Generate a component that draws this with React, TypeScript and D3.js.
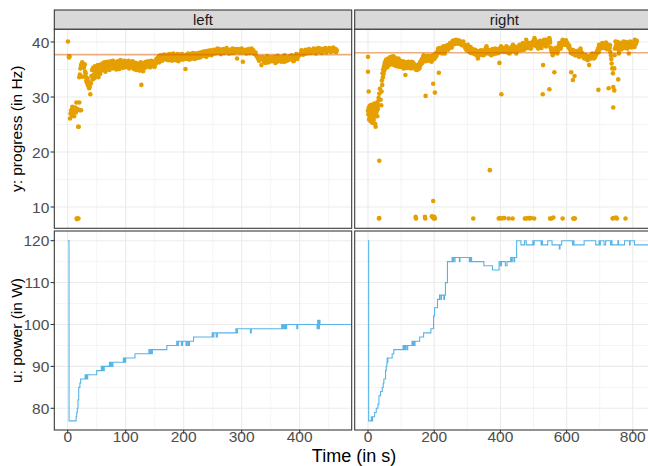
import React from "react";
import * as d3 from "d3";

// ---------- DATA ----------
const facetNames = ["left", "right"];
const referenceValues = [37.7, 38.05];

const xTicksLeft = [0, 100, 200, 300, 400];
const xMinorLeft = [50, 150, 250, 350, 450];
const xTicksRight = [0, 200, 400, 600, 800];
const xMinorRight = [100, 300, 500, 700];
const yTicksProgress = [10, 20, 30, 40];
const yMinorProgress = [15, 25, 35];
const yTicksPower = [80, 90, 100, 110, 120];
const yMinorPower = [85, 95, 105, 115];

const progressLeft: [number, number][] = [
  [0.5, 40.1], [2, 37.3], [2.5, 37.2], [3, 37.4],
  [4, 26.1], [5, 27], [6, 27.6], [7, 26.6], [8, 28.2], [9, 27.3], [10, 27.8], [11, 26.5], [12, 27.4], [13, 28.1], [14, 27.2], [15, 29], [16, 27.6], [17, 27.8], [18, 24.6], [19, 24.6], [20, 29.0], [21, 27.6], [23, 27.6],
  [15.5, 7.9], [17, 7.9], [18.5, 7.9], [16, 7.8],
  [20, 33.6], [21, 34.1], [22, 35.2], [23, 35.8], [24, 35.9], [25, 36.3], [26, 35.5], [27, 36.0], [28, 35.3], [29, 35.9], [30, 34.6], [31, 33.7], [32, 33.0], [33, 32.6], [34, 33.4], [35, 32.1], [36, 32.8], [37, 31.6], [38, 31.9], [39, 30.5], [25.3, 33.7], [31, 34.3], [29.3, 35.9],
  [40, 32.5], [41, 33.8], [42, 34.9], [43, 33.2], [44, 35.3], [45, 34.1], [46, 33.4], [47, 35.6], [48, 34.6], [49, 33.9], [50, 35.1], [51, 34.4], [52, 35.8], [53, 33.6], [54, 34.9], [55, 35.4], [56, 34.2], [57, 35.9], [58, 34.8], [59, 35.3], [60, 36.1],
  [61, 34.9], [62, 35.6], [63, 36.3], [64, 35.2], [65, 34.6], [66, 36.0], [67, 35.5], [68, 36.4], [69, 35.1], [70, 35.8], [71, 36.2], [72, 34.9], [73, 35.7], [74, 36.5], [75, 35.3], [76, 36.0], [77, 35.6], [78, 36.6], [79, 35.2], [80, 35.9], [81, 36.3], [82, 35.4], [83, 36.1], [84, 35.0], [85, 35.8], [86, 36.5], [87, 35.5], [88, 36.2], [89, 35.1], [90, 36.0], [91, 36.7], [92, 35.6], [93, 35.9], [94, 36.4], [95, 35.3], [96, 36.1], [97, 35.7], [98, 36.6], [99, 35.4], [100, 36.0],
  [101, 36.4], [102, 35.5], [103, 36.1], [104, 35.8], [105, 36.6], [106, 35.2], [107, 35.9], [108, 36.3], [109, 35.6], [110, 36.0], [111, 35.4], [112, 36.5], [113, 35.7], [114, 35.1], [115, 35.9], [116, 35.3], [117, 36.2], [118, 34.9], [119, 35.6], [120, 35.8], [121, 35.2], [122, 36.1], [123, 35.5], [124, 34.8], [125, 35.7], [126, 36.3], [127, 32.2], [128, 35.4], [129, 36.0], [130, 34.7], [131, 35.6], [132, 36.2], [133, 35.3], [134, 35.9], [135, 36.4], [136, 35.5], [137, 36.1], [138, 35.7], [139, 36.5], [140, 35.8], [141, 36.3], [142, 35.4], [143, 36.0], [144, 36.6], [145, 35.9], [146, 36.2], [147, 35.6], [148, 36.4], [149, 36.0], [150, 35.5],
  [151, 36.6], [152, 36.1], [153, 36.9], [154, 36.4], [155, 37.1], [156, 36.7], [157, 37.4], [158, 36.3], [159, 37.0], [160, 37.6], [161, 36.8], [162, 37.3], [163, 36.6], [164, 37.5], [165, 37.0], [166, 37.7], [167, 36.9], [168, 37.2], [169, 37.6], [170, 36.8],
  [171, 37.4], [172, 37.0], [173, 37.7], [174, 36.7], [175, 37.3], [176, 37.8], [177, 36.9], [178, 37.5], [179, 37.1], [180, 36.6], [181, 37.4], [182, 37.9], [183, 37.0], [184, 36.8], [185, 37.6], [186, 37.2], [187, 36.7], [188, 37.5], [189, 37.8], [190, 37.0], [191, 36.5], [192, 37.3], [193, 37.7], [194, 36.9], [195, 37.4], [196, 37.0], [197, 37.8], [198, 36.8], [199, 37.3], [200, 37.6], [201, 36.9], [202, 37.5], [203, 35.1], [204, 37.2], [205, 37.7], [206, 36.9], [207, 37.4], [208, 37.9], [209, 37.1], [210, 36.8], [211, 37.6], [212, 37.3], [213, 37.8], [214, 37.0], [215, 37.5], [216, 38.0], [217, 37.2], [218, 37.7], [219, 36.9], [220, 37.5], [221, 37.9], [222, 37.3], [223, 37.7], [224, 37.1], [225, 38.0], [226, 37.5], [227, 37.8], [228, 37.2], [229, 38.1], [230, 37.6], [231, 37.9], [232, 37.4], [233, 38.2], [234, 37.7], [235, 38.0], [236, 37.5], [237, 38.3], [238, 37.8], [239, 37.3], [240, 38.1], [241, 37.6], [242, 38.4], [243, 37.9], [244, 38.2], [245, 37.7], [246, 38.5], [247, 38.0], [248, 37.6], [249, 38.3], [250, 38.1],
  [252, 38.6], [254, 37.9], [256, 38.4], [258, 38.8], [260, 38.1], [262, 38.5], [264, 37.8], [266, 38.3], [268, 38.7], [270, 38.0], [272, 38.4], [274, 38.9], [276, 38.2], [278, 37.9], [280, 38.6], [282, 38.3], [284, 38.8], [286, 38.0], [288, 38.5], [290, 38.2], [292, 37.0], [294, 38.7], [296, 38.1], [298, 38.4], [300, 38.8], [302, 36.4], [304, 38.2], [306, 38.6], [308, 37.9], [310, 38.3], [312, 38.7], [314, 38.0], [316, 38.4], [318, 38.1], [320, 38.5],
  [253, 38.2], [257, 38.0], [261, 38.7], [265, 38.5], [269, 38.2], [273, 38.6], [277, 38.4], [281, 38.0], [285, 38.4], [289, 38.7], [293, 38.3], [297, 38.6], [301, 38.1], [305, 38.5], [309, 38.6], [313, 38.2], [317, 38.8],
  [322, 37.8], [324, 38.1], [326, 37.4], [328, 37.0], [330, 36.6], [332, 37.2], [334, 35.8],
  [336, 36.9], [338, 36.4], [340, 37.1], [342, 36.6], [344, 37.4], [346, 36.3], [348, 36.9], [350, 37.2], [352, 36.5], [354, 36.8], [356, 37.3], [358, 36.2], [360, 36.9], [362, 37.5], [364, 36.6], [366, 37.0], [368, 36.4], [370, 37.3], [372, 36.8], [374, 37.6], [376, 36.5], [378, 37.1], [380, 36.7], [382, 37.4], [384, 36.9], [386, 37.6], [388, 37.1], [390, 36.6], [392, 37.3], [394, 37.8], [396, 36.9], [398, 37.4], [400, 37.7],
  [337, 37.2], [341, 36.2], [345, 36.9], [349, 36.5], [353, 37.0], [357, 36.7], [361, 36.4], [365, 37.2], [369, 36.8], [373, 36.4], [377, 37.0], [381, 36.8], [385, 37.3], [389, 36.5], [393, 37.0], [397, 37.5],
  [402, 38.0], [404, 38.4], [406, 37.7], [408, 38.2], [410, 38.6], [412, 37.9], [414, 38.3], [416, 38.7], [418, 38.0], [420, 38.5], [422, 38.1], [424, 38.8], [426, 38.3], [428, 37.9], [430, 38.6], [432, 38.9], [434, 38.2], [436, 38.5], [438, 38.0], [440, 38.7], [442, 38.3], [444, 38.9], [446, 38.1], [448, 38.6], [450, 38.4], [452, 38.8], [454, 38.2], [456, 38.6], [458, 39.0], [460, 38.3], [462, 38.7], [464, 38.5],
  [403, 38.5], [407, 38.3], [411, 38.0], [415, 38.5], [419, 38.3], [423, 38.4], [427, 38.7], [431, 38.2], [435, 38.8], [439, 38.4], [443, 38.6], [447, 38.3], [451, 38.9], [455, 38.4], [459, 38.6], [463, 38.2],
];

const progressRight: [number, number][] = [
  [0, 37.3], [0, 34.6], [2, 31.0],
  [0, 27.5], [1, 26.8], [2, 28.0], [3, 25.9], [4, 27.2], [5, 28.4], [6, 26.3], [7, 27.8], [8, 25.6], [9, 27.0], [10, 28.6], [11, 26.1], [12, 27.4], [13, 25.3], [14, 28.2], [15, 26.7], [16, 27.9], [17, 25.8], [18, 27.1], [19, 28.8], [20, 26.4], [21, 27.6], [22, 25.1], [23, 24.6], [24, 26.9], [25, 28.3], [26, 27.3], [27, 28.9], [28, 26.5], [29, 29.1], [30, 27.8], [31, 28.5], [32, 29.8], [34, 30.6], [36, 31.5], [38, 29.5], [40, 28.5],
  [34, 18.4], [33, 7.9], [34, 8.0], [144, 8.2], [145, 7.9], [172, 8.2], [173, 7.9], [193, 8.3], [196, 8.1], [197, 11.1], [199, 7.9], [200, 8.2], [202, 7.9],
  [174, 30.2], [197, 32.4], [202, 30.8], [214, 34.4], [318, 7.9], [368, 16.7], [397, 36.2], [403, 30.5],
  [395, 7.9], [398, 8.0], [403, 7.9], [410, 8.0], [412, 8.0], [425, 7.9], [437, 7.9], [474, 7.9], [478, 7.9], [484, 8.0], [488, 7.9], [492, 8.0], [502, 7.9],
  [528, 30.5], [529, 35.8], [548, 31.4], [563, 34.5], [550, 7.9], [554, 7.9], [560, 8.1], [588, 7.9], [620, 7.9], [623, 7.9], [625, 7.9],
  [614, 34.5], [619, 33.1], [624, 33.8], [696, 31.3], [727, 31.6], [741, 31.8], [744, 31.2], [741, 28.1], [756, 33.2], [744, 35.2],
  [739, 7.9], [742, 8.0], [749, 8.1], [752, 7.9], [778, 7.9],
  [736, 36.1], [738, 35.2], [740, 34.3],
  [41, 31.0], [42, 33.0], [43, 32.2], [44, 34.3], [45, 33.6], [46, 35.0], [47, 34.2], [48, 35.5], [49, 34.8], [50, 36.0], [51, 35.2], [52, 36.4], [53, 35.7], [55, 36.8], [56, 35.9], [57, 36.3], [58, 35.4], [60, 36.6],
  [61, 37.0], [62, 36.2], [63, 36.7], [64, 35.8], [65, 36.9], [66, 36.4], [67, 37.2], [68, 36.0], [69, 36.6], [70, 37.3], [71, 36.1], [72, 36.8], [73, 37.0], [74, 35.9], [75, 36.5], [76, 37.4], [77, 36.2], [78, 37.3], [79, 36.7], [80, 35.8], [81, 36.5], [82, 37.1], [83, 36.4], [84, 35.7], [85, 36.9], [86, 36.3], [87, 35.6], [88, 36.1], [89, 36.8], [90, 35.9], [91, 36.4], [92, 37.0], [93, 36.7], [94, 35.5], [95, 36.2], [96, 35.8], [97, 36.6], [98, 35.5], [99, 36.0], [100, 36.3],
  [102, 36.1], [104, 35.4], [106, 36.5], [108, 35.2], [110, 35.9], [112, 36.3], [113, 34.0], [114, 35.6], [116, 36.0], [118, 35.8], [120, 35.3], [122, 36.4], [124, 35.7], [126, 36.1], [128, 35.8], [130, 35.2], [132, 36.4], [134, 35.9], [136, 35.5], [138, 36.1], [140, 35.4], [142, 35.8], [143, 35.2], [144, 35.0], [146, 35.6], [148, 34.9], [150, 35.4], [152, 35.5], [154, 36.0], [156, 35.3], [158, 36.4], [160, 35.9],
  [101, 35.6], [105, 35.9], [109, 36.2], [115, 35.3], [119, 36.3], [123, 35.9], [127, 35.4], [131, 35.9], [135, 36.3], [139, 35.7], [145, 35.7], [149, 35.5], [153, 35.1], [157, 35.9],
  [162, 36.7], [164, 36.2], [166, 37.2], [168, 37.6], [170, 36.9], [172, 37.0], [174, 36.5], [176, 37.3], [178, 36.7], [180, 37.1], [182, 37.3], [184, 36.6], [186, 37.5], [188, 37.0], [190, 36.8], [192, 36.4], [194, 37.2], [196, 37.6], [198, 37.3], [200, 36.9], [202, 37.6], [204, 37.9], [206, 37.4], [208, 37.9], [210, 38.3],
  [163, 36.9], [167, 36.5], [171, 37.4], [175, 36.9], [179, 37.5], [183, 36.9], [187, 37.3], [191, 37.1], [195, 36.8], [199, 37.5], [203, 37.2], [207, 37.7],
  [212, 38.8], [214, 38.0], [216, 38.5], [218, 38.2], [220, 38.9], [222, 38.5], [224, 37.9], [226, 39.0], [228, 39.2], [230, 38.4], [232, 37.9], [234, 38.7], [236, 39.1], [238, 38.8], [240, 39.4], [242, 38.6], [244, 39.2], [246, 39.6], [248, 39.8], [250, 39.1], [252, 39.5], [254, 39.9], [256, 40.2], [258, 40.1], [260, 39.6],
  [213, 38.4], [217, 38.9], [221, 38.1], [225, 38.6], [229, 38.8], [233, 38.4], [237, 39.3], [241, 39.0], [245, 38.9], [249, 39.5], [253, 39.0], [257, 39.7],
  [262, 40.3], [264, 39.8], [266, 40.4], [268, 40.0], [270, 39.7], [272, 40.3], [274, 39.8], [276, 40.2], [278, 40.1], [280, 39.6], [282, 40.0], [284, 39.4], [286, 39.9], [288, 40.1], [290, 39.5], [292, 39.2], [294, 38.9], [296, 39.4], [298, 38.5], [300, 39.0],
  [302, 39.5], [304, 38.7], [306, 38.2], [308, 38.8], [310, 39.1], [312, 38.4], [314, 38.0], [316, 38.7], [318, 37.9], [320, 38.5], [322, 38.2], [324, 38.6], [326, 37.9], [328, 37.6], [330, 38.3], [332, 37.0], [334, 37.5], [336, 37.9], [338, 38.4], [340, 37.7], [342, 38.5], [344, 38.2], [346, 37.8], [348, 37.6], [350, 38.3], [352, 38.0], [354, 38.6], [356, 38.9], [358, 39.2], [360, 38.4], [362, 37.9], [364, 38.6], [366, 38.2], [368, 38.5], [370, 38.0], [372, 37.6], [374, 38.3], [376, 38.7], [378, 38.2], [380, 37.8], [382, 38.5], [384, 38.8], [386, 38.1], [388, 37.9], [390, 38.6], [392, 38.3], [394, 38.0], [396, 38.4], [398, 38.5], [400, 38.9],
  [303, 38.9], [307, 38.4], [311, 38.0], [315, 38.3], [319, 38.1], [323, 37.8], [327, 38.2], [331, 37.7], [335, 38.1], [339, 37.9], [343, 38.0], [347, 38.4], [351, 37.7], [355, 38.3], [359, 38.7], [363, 38.3], [367, 37.9], [371, 38.3], [375, 38.0], [379, 38.5], [383, 38.2], [387, 38.4], [391, 38.2], [395, 38.7], [399, 38.2],
  [402, 39.2], [404, 38.5], [406, 38.9], [408, 38.8], [410, 38.2], [412, 38.6], [414, 38.2], [416, 38.9], [418, 39.2], [420, 38.6], [422, 38.5], [424, 38.0], [426, 38.6], [428, 37.9], [430, 38.4], [432, 38.8], [434, 39.1], [436, 38.3], [438, 39.5], [440, 38.9], [442, 38.5], [444, 39.0], [446, 38.2], [448, 37.9], [450, 38.6], [452, 38.8], [454, 39.2], [456, 38.5], [458, 39.5], [460, 38.9], [462, 38.5], [464, 39.1], [466, 39.6], [468, 39.8], [470, 39.0], [472, 38.6], [474, 38.8], [476, 39.4], [478, 40.4], [480, 39.7], [482, 39.2], [484, 38.9], [486, 39.5], [488, 39.8], [490, 39.3], [492, 38.8], [494, 39.4], [496, 39.9], [498, 40.1], [500, 39.6],
  [405, 39.0], [409, 38.4], [413, 38.8], [417, 38.5], [421, 39.0], [425, 38.3], [429, 38.7], [433, 38.4], [437, 38.9], [441, 39.2], [445, 38.7], [449, 38.4], [453, 39.0], [457, 38.7], [461, 39.2], [465, 38.6], [469, 39.3], [473, 39.1], [477, 39.0], [481, 39.9], [485, 39.2], [489, 39.0], [493, 39.6], [497, 39.4],
  [502, 40.2], [503, 40.7], [504, 39.8], [506, 39.3], [508, 39.5], [510, 40.0], [512, 39.2], [514, 38.8], [516, 39.6], [518, 39.8], [520, 40.2], [522, 39.4], [524, 38.9], [526, 39.7], [528, 39.5], [530, 40.1], [532, 40.4], [534, 39.6], [536, 39.9], [538, 39.2], [540, 39.7], [542, 40.3], [544, 40.1], [546, 40.5], [548, 40.7], [550, 39.9], [552, 39.0], [554, 38.5], [556, 38.1], [558, 37.6],
  [505, 40.3], [509, 39.9], [513, 39.6], [517, 40.1], [521, 39.8], [525, 39.3], [529, 39.9], [533, 39.8], [537, 40.4], [541, 39.4], [545, 39.8], [549, 40.3], [553, 38.8],
  [560, 38.0], [562, 38.6], [564, 38.2], [566, 38.9], [568, 38.8], [570, 38.4], [572, 37.9], [574, 38.5], [576, 39.3], [578, 39.8], [580, 39.2], [582, 38.8], [584, 39.6], [586, 40.0], [588, 40.4], [590, 39.7], [592, 39.5], [594, 39.9], [596, 40.1], [598, 40.3], [600, 39.6], [602, 39.8], [604, 39.3], [606, 39.0], [608, 39.2], [610, 38.7],
  [563, 38.3], [567, 38.5], [571, 38.1], [575, 38.7], [579, 39.5], [583, 39.1], [587, 39.7], [591, 40.0], [595, 39.5], [599, 39.9], [603, 39.5], [607, 39.4],
  [612, 38.5], [614, 38.1], [616, 38.6], [618, 38.4], [620, 37.8], [622, 38.2], [624, 37.9], [626, 37.6], [628, 37.6], [630, 38.2], [632, 37.9], [634, 38.4], [636, 37.5], [638, 37.3], [640, 38.0], [642, 38.8], [644, 38.2], [646, 37.7], [648, 37.9], [650, 37.4], [652, 37.1], [654, 37.0], [656, 37.6], [658, 37.6], [660, 37.2], [662, 36.8], [664, 36.7], [666, 37.4], [668, 35.8], [670, 37.1], [672, 37.5], [674, 37.3], [676, 37.8], [678, 37.9], [680, 37.4], [682, 37.0], [684, 37.6], [686, 37.3], [688, 37.6], [690, 38.0], [692, 38.3], [694, 38.5], [696, 38.9], [698, 39.5], [700, 39.0],
  [613, 38.0], [617, 37.9], [621, 38.5], [625, 38.3], [629, 37.9], [633, 37.7], [637, 38.1], [641, 38.4], [645, 38.0], [649, 37.6], [653, 37.5], [657, 37.3], [661, 37.5], [665, 37.0], [669, 37.3], [673, 37.0], [677, 37.4], [681, 37.7], [685, 37.2], [689, 37.8], [693, 38.0], [697, 38.2],
  [702, 38.8], [704, 39.2], [706, 39.5], [708, 39.8], [710, 39.1], [712, 38.9], [714, 39.2], [716, 39.6], [718, 39.5], [720, 39.0], [722, 38.7], [724, 38.8], [726, 39.3], [728, 39.5], [730, 38.9], [732, 38.2], [734, 37.6], [735, 36.9],
  [703, 39.5], [707, 38.9], [711, 39.6], [715, 39.0], [719, 39.9], [723, 39.3], [727, 39.0], [731, 39.4],
  [745, 37.6], [746, 38.8], [748, 40.1], [750, 39.4], [752, 39.5], [754, 38.8], [756, 39.2], [758, 38.5], [760, 39.6], [762, 39.8], [764, 39.1], [766, 38.7], [768, 39.2], [770, 39.7], [772, 40.1], [774, 39.4], [776, 38.9], [778, 39.5], [780, 40.0], [782, 39.3], [784, 38.8], [786, 39.6], [788, 39.8], [790, 39.2], [792, 40.1], [794, 39.7], [796, 39.0], [798, 39.2], [800, 39.9], [802, 39.5], [804, 39.8], [806, 40.4], [808, 39.6], [810, 39.9], [812, 40.2],
  [749, 39.0], [753, 40.0], [757, 39.9], [761, 39.0], [765, 39.6], [769, 38.9], [773, 39.6], [777, 39.9], [781, 39.6], [785, 39.4], [789, 39.3], [793, 39.5], [797, 39.6], [801, 39.4], [805, 39.1], [809, 39.7], [758, 37.9], [788, 37.9],
];

const powerLeft: [number, number][] = [
  [0, 120], [2.3, 77], [14.4, 78], [15.5, 79], [16.5, 80], [17.8, 82], [19, 85], [21, 86], [22.4, 87], [30, 88], [31, 87], [32, 88], [33.5, 87], [34.5, 88],
  [50, 89], [58, 90], [59, 89], [60.5, 90], [62, 89], [63, 90], [72, 91], [73, 90], [75, 91], [76, 90], [78, 91], [96, 92], [97, 91], [98.5, 92], [99.5, 91], [100, 92],
  [116, 93], [140, 94], [141, 93], [143, 94], [144.5, 93], [146, 94], [171, 95], [188, 96], [189, 95], [191, 96], [196, 95], [198, 96], [204, 95], [206, 96], [208, 95], [210, 96],
  [217, 97], [249, 98], [250, 97], [252, 98], [256, 97], [258, 98], [290, 99], [291, 98], [292.5, 99], [315, 98], [316.5, 99],
  [369, 100], [370, 99], [371.5, 100], [373, 99], [375, 100], [376, 99], [377.5, 100], [395, 99], [396.5, 100], [430, 99], [431, 101], [433, 99], [434, 101], [435, 100], [490, 100],
];

const powerRight: [number, number][] = [
  [0, 120], [2, 77], [10, 78], [12, 77], [14, 78], [20, 79], [25, 80], [30, 81], [33, 83], [38, 84], [43, 85], [46, 86], [48, 87], [53, 89], [55, 90], [57, 91], [58, 92], [59, 91], [60, 92],
  [73, 93], [78, 94], [106, 95], [108, 94], [110, 95], [112, 94], [114, 95], [118, 94], [120, 95], [133, 96], [136, 95], [138, 96], [141, 95], [142, 96], [156, 97], [168, 98], [190, 99],
  [198, 102], [201, 104], [210, 106], [216, 107], [220, 106], [222, 107], [229, 106], [231, 107], [234, 110], [240, 115], [254, 116], [256, 115], [258, 116], [262, 115], [263, 116], [276, 115], [278, 116],
  [306, 115], [308, 116], [310, 115], [312, 116], [313, 115], [350, 114], [376, 113], [396, 115], [400, 114], [403, 115], [415, 114], [420, 115], [431, 116], [434, 115], [436, 116], [441, 115], [443, 116],
  [449, 120], [462, 119], [473, 120], [478, 119], [498, 120], [500, 119], [502, 120], [523, 119], [525, 120], [527, 119], [543, 120], [556, 119], [578, 118], [580, 119], [585, 120], [618, 119], [620, 120], [622, 119],
  [653, 120], [688, 119], [698, 120], [700, 119], [702, 120], [713, 119], [718, 120], [733, 119], [735, 120], [737, 119], [755, 120], [757, 119], [775, 120], [790, 119], [792, 120], [805, 119], [863, 119],
];

// ---------- LAYOUT ----------
const W = 648;
const H = 466;
const FONT = "'Liberation Sans', Arial, Helvetica, sans-serif";
const colX = [
  { x0: 54.3, x1: 351.7, domain: [-23.1, 489.66] },
  { x0: 354.7, x1: 654, domain: [-40.18, 864.05] },
];
const stripTop = 10;
const topPanel = { y0: 29.3, y1: 228.3, domain: [6.127, 42.31] };
const botPanel = { y0: 231, y1: 430, domain: [74.82, 122.31] };

const POINT = "#E69F00";
const LINE = "#56B4E9";
const GRID = "#EBEBEB";
const BORDER = "#333333";
const TICK_FS = 15.5;

export default function App() {
  const xScales = colX.map((c) => d3.scaleLinear().domain(c.domain).range([c.x0, c.x1]));
  const yTop = d3.scaleLinear().domain(topPanel.domain).range([topPanel.y1, topPanel.y0]);
  const yBot = d3.scaleLinear().domain(botPanel.domain).range([botPanel.y1, botPanel.y0]);
  const progressData = [progressLeft, progressRight];
  const powerData = [powerLeft, powerRight];
  const majorX = [xTicksLeft, xTicksRight];
  const minorX = [xMinorLeft, xMinorRight];

  const panel = (ci: number, row: number) => {
    const c = colX[ci];
    const xs = xScales[ci];
    const p = row === 0 ? topPanel : botPanel;
    const ys = row === 0 ? yTop : yBot;
    const yMaj = row === 0 ? yTicksProgress : yTicksPower;
    const yMin = row === 0 ? yMinorProgress : yMinorPower;
    const clipId = `clip-${ci}-${row}`;
    const line = d3
      .line<[number, number]>()
      .x((d) => xs(d[0]))
      .y((d) => ys(d[1]))
      .curve(d3.curveStepAfter);
    return (
      <g key={clipId}>
        <defs>
          <clipPath id={clipId}>
            <rect x={c.x0} y={p.y0} width={c.x1 - c.x0} height={p.y1 - p.y0} />
          </clipPath>
        </defs>
        <rect x={c.x0} y={p.y0} width={c.x1 - c.x0} height={p.y1 - p.y0} fill="#fff" />
        <g clipPath={`url(#${clipId})`}>
          {yMin.map((v) => (
            <line key={"ym" + v} x1={c.x0} x2={c.x1} y1={ys(v)} y2={ys(v)} stroke={GRID} strokeWidth={0.55} />
          ))}
          {minorX[ci].map((v) => (
            <line key={"xm" + v} x1={xs(v)} x2={xs(v)} y1={p.y0} y2={p.y1} stroke={GRID} strokeWidth={0.55} />
          ))}
          {yMaj.map((v) => (
            <line key={"yM" + v} x1={c.x0} x2={c.x1} y1={ys(v)} y2={ys(v)} stroke={GRID} strokeWidth={1.07} />
          ))}
          {majorX[ci].map((v) => (
            <line key={"xM" + v} x1={xs(v)} x2={xs(v)} y1={p.y0} y2={p.y1} stroke={GRID} strokeWidth={1.07} />
          ))}
          {row === 0 ? (
            <g>
              {progressData[ci].map((d, i) => (
                <circle key={i} cx={xs(d[0])} cy={ys(d[1])} r={2.3} fill={POINT} />
              ))}
              <line
                x1={c.x0}
                x2={c.x1}
                y1={ys(referenceValues[ci])}
                y2={ys(referenceValues[ci])}
                stroke="#D55E00"
                strokeOpacity={0.5}
                strokeWidth={1.6}
              />
            </g>
          ) : (
            <path d={line(powerData[ci]) || ""} fill="none" stroke={LINE} strokeWidth={1.1} />
          )}
        </g>
        <rect x={c.x0} y={p.y0} width={c.x1 - c.x0} height={p.y1 - p.y0} fill="none" stroke={BORDER} strokeWidth={1.07} />
        {ci === 0 &&
          yMaj.map((v) => (
            <g key={"yt" + v}>
              <line x1={c.x0 - 3.7} x2={c.x0} y1={ys(v)} y2={ys(v)} stroke={BORDER} strokeWidth={1.07} />
              <text x={c.x0 - 5} y={ys(v)} dy="0.36em" textAnchor="end" fontSize={TICK_FS} fill="#4D4D4D" fontFamily={FONT}>
                {v}
              </text>
            </g>
          ))}
        {row === 1 &&
          majorX[ci].map((v) => (
            <g key={"xt" + v}>
              <line x1={xs(v)} x2={xs(v)} y1={p.y1} y2={p.y1 + 3.7} stroke={BORDER} strokeWidth={1.07} />
              <text x={xs(v)} y={p.y1 + 12.3} textAnchor="middle" fontSize={TICK_FS} fill="#4D4D4D" fontFamily={FONT}>
                {v}
              </text>
            </g>
          ))}
      </g>
    );
  };

  return (
    <svg
      width={W}
      height={H}
      style={{ position: "absolute", left: 0, top: 0, background: "#fff" }}
      xmlns="http://www.w3.org/2000/svg"
    >
      <rect x={0} y={0} width={W} height={H} fill="#fff" />
      {facetNames.map((name, ci) => (
        <g key={name}>
          <rect
            x={colX[ci].x0}
            y={stripTop}
            width={colX[ci].x1 - colX[ci].x0}
            height={topPanel.y0 - stripTop}
            fill="#D9D9D9"
            stroke={BORDER}
            strokeWidth={1.07}
          />
          <text
            x={(colX[ci].x0 + colX[ci].x1) / 2}
            y={(stripTop + topPanel.y0) / 2}
            dy="0.36em"
            textAnchor="middle"
            fontSize={15}
            fill="#1A1A1A"
            fontFamily={FONT}
          >
            {name}
          </text>
        </g>
      ))}
      {[0, 1].map((ci) => [panel(ci, 0), panel(ci, 1)])}
      <text
        transform={`translate(21.5,${(topPanel.y0 + topPanel.y1) / 2}) rotate(-90)`}
        textAnchor="middle"
        fontSize={15.5}
        fill="#000"
        fontFamily={FONT}
      >
        y: progress (in Hz)
      </text>
      <text
        transform={`translate(21.5,${(botPanel.y0 + botPanel.y1) / 2}) rotate(-90)`}
        textAnchor="middle"
        fontSize={15.5}
        fill="#000"
        fontFamily={FONT}
      >
        u: power (in W)
      </text>
      <text x={354} y={461.5} textAnchor="middle" fontSize={18} fill="#000" fontFamily={FONT}>
        Time (in s)
      </text>
    </svg>
  );
}
